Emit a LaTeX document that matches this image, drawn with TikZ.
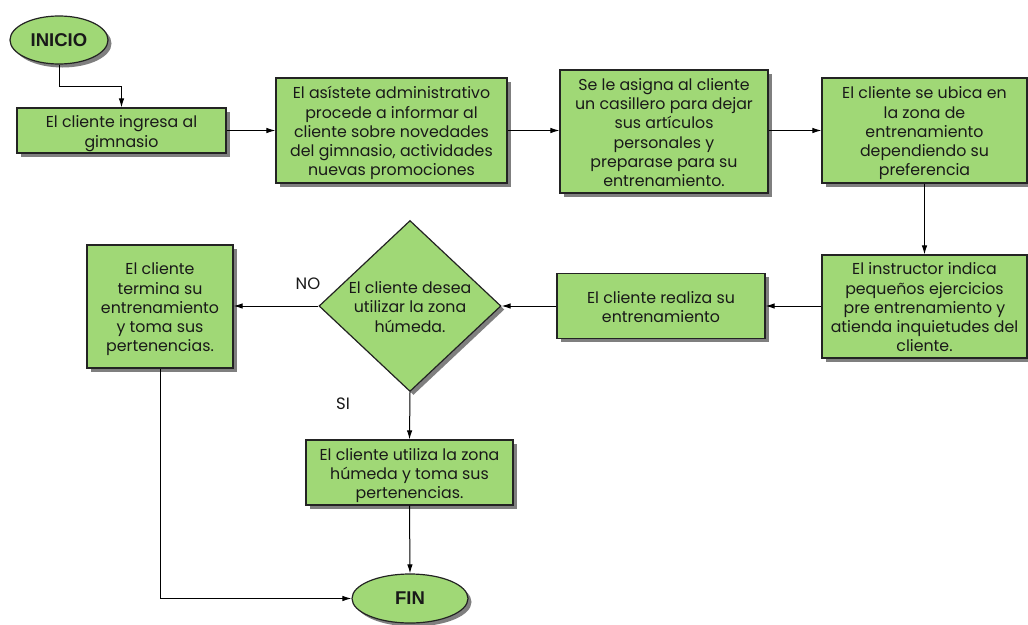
\documentclass[tikz,border=0pt]{standalone}
\usepackage{fontspec}
\setmainfont{Poppins}
\newfontfamily\termfont{Liberation Sans}
\usetikzlibrary{shapes.geometric,shadows,arrows.meta}
\definecolor{boxgreen}{RGB}{160,216,118}
\definecolor{edgecol}{RGB}{35,35,35}
\definecolor{txtcol}{RGB}{25,25,25}
\newcommand\tx[1]{\raisebox{-3pt}[\height][\depth]{\begin{tabular}{@{}c@{}}#1\end{tabular}}}
\begin{document}
\begin{tikzpicture}[x=1pt,y=-1pt,
  shad/.style={drop shadow={shadow xshift=3.5pt, shadow yshift=-3.5pt, opacity=0.5, fill=black}},
  box/.style={shad, draw=edgecol, line width=1.2pt, fill=boxgreen, align=center, inner sep=0pt,
    text=txtcol, font=\fontsize{15.8}{19.3}\selectfont},
  term/.style={shad, ellipse, draw=edgecol, line width=1.2pt, fill=boxgreen, inner sep=0pt,
    text=txtcol, font=\termfont\bfseries\fontsize{18.5}{20}\selectfont},
  dec/.style={shad, diamond, draw=edgecol, line width=1.2pt, fill=boxgreen, inner sep=0pt},
  lbl/.style={text=txtcol, font=\fontsize{16.5}{18}\selectfont, inner sep=0pt},
  arr/.style={draw=black, line width=1pt, -{Latex[length=9pt,width=5.5pt]}}
]
\useasboundingbox (0,0) rectangle (1028,624);
\fill[white] (0,0) rectangle (1028,624);

\node[term, minimum width=98pt, minimum height=48pt] (ini) at (59,40) {INICIO};
\node[box, minimum width=209pt, minimum height=45pt] (b1) at (121.5,130.5)
  {\tx{El cliente ingresa al\\gimnasio}};
\node[box, minimum width=231pt, minimum height=105pt] (b2) at (391.5,130.5)
  {\tx{El asístete administrativo\\procede a informar al\\cliente sobre novedades\\del gimnasio, actividades\\nuevas promociones}};
\node[box, minimum width=208pt, minimum height=123pt] (b3) at (664,131.5)
  {\tx{Se le asigna al cliente\\un casillero para dejar\\sus artículos\\personales y\\preparase para su\\entrenamiento.}};
\node[box, minimum width=205pt, minimum height=105pt] (b4) at (924.5,130.5)
  {\tx{El cliente se ubica en\\la zona de\\entrenamiento\\dependiendo su\\preferencia}};
\node[box, minimum width=205pt, minimum height=103pt] (b5) at (924.5,306.5)
  {\tx{El instructor indica\\pequeños ejercicios\\pre entrenamiento y\\atienda inquietudes del\\cliente.}};
\node[box, minimum width=208pt, minimum height=65pt] (b6) at (661,306)
  {\tx{El cliente realiza su\\entrenamiento}};
\node[dec, minimum width=182pt, minimum height=171pt] (dia) at (410,306) {};
\node[inner sep=0pt, text=txtcol, font=\fontsize{15.8}{19.3}\selectfont] (diat) at (410,306)
  {\tx{El cliente desea\\utilizar la zona\\húmeda.}};
\node[box, minimum width=146pt, minimum height=123pt] (b7) at (160,306.5)
  {\tx{El cliente\\termina su\\entrenamiento\\y toma sus\\pertenencias.}};
\node[box, minimum width=207pt, minimum height=65pt] (b8) at (409.5,472.5)
  {\tx{El cliente utiliza la zona\\húmeda y toma sus\\pertenencias.}};
\node[term, minimum width=116pt, minimum height=49pt] (fin) at (410,598.5) {FIN};

\node[lbl] (no) at (308,284) {NO};
\node[lbl] (si) at (343,404) {SI};

\draw[arr] (ini.south) -- ++(0,22) -| (b1.north);
\draw[arr] (b1.east) -- (b1.east -| b2.west);
\draw[arr] (b2.east) -- (b2.east -| b3.west);
\draw[arr] (b3.east |- b4.west) -- (b4.west);
\draw[arr] (b4.south) -- (b5.north);
\draw[arr] (b5.west |- b6.east) -- (b6.east);
\draw[arr] (b6.west) -- (dia.east);
\draw[arr] (dia.west) -- (dia.west -| b7.east);
\draw[arr] (dia.south) -- (b8.north);
\draw[arr] (b8.south) -- (fin.north);
\draw[arr] (b7.south) |- (fin.west);
\end{tikzpicture}
\end{document}
